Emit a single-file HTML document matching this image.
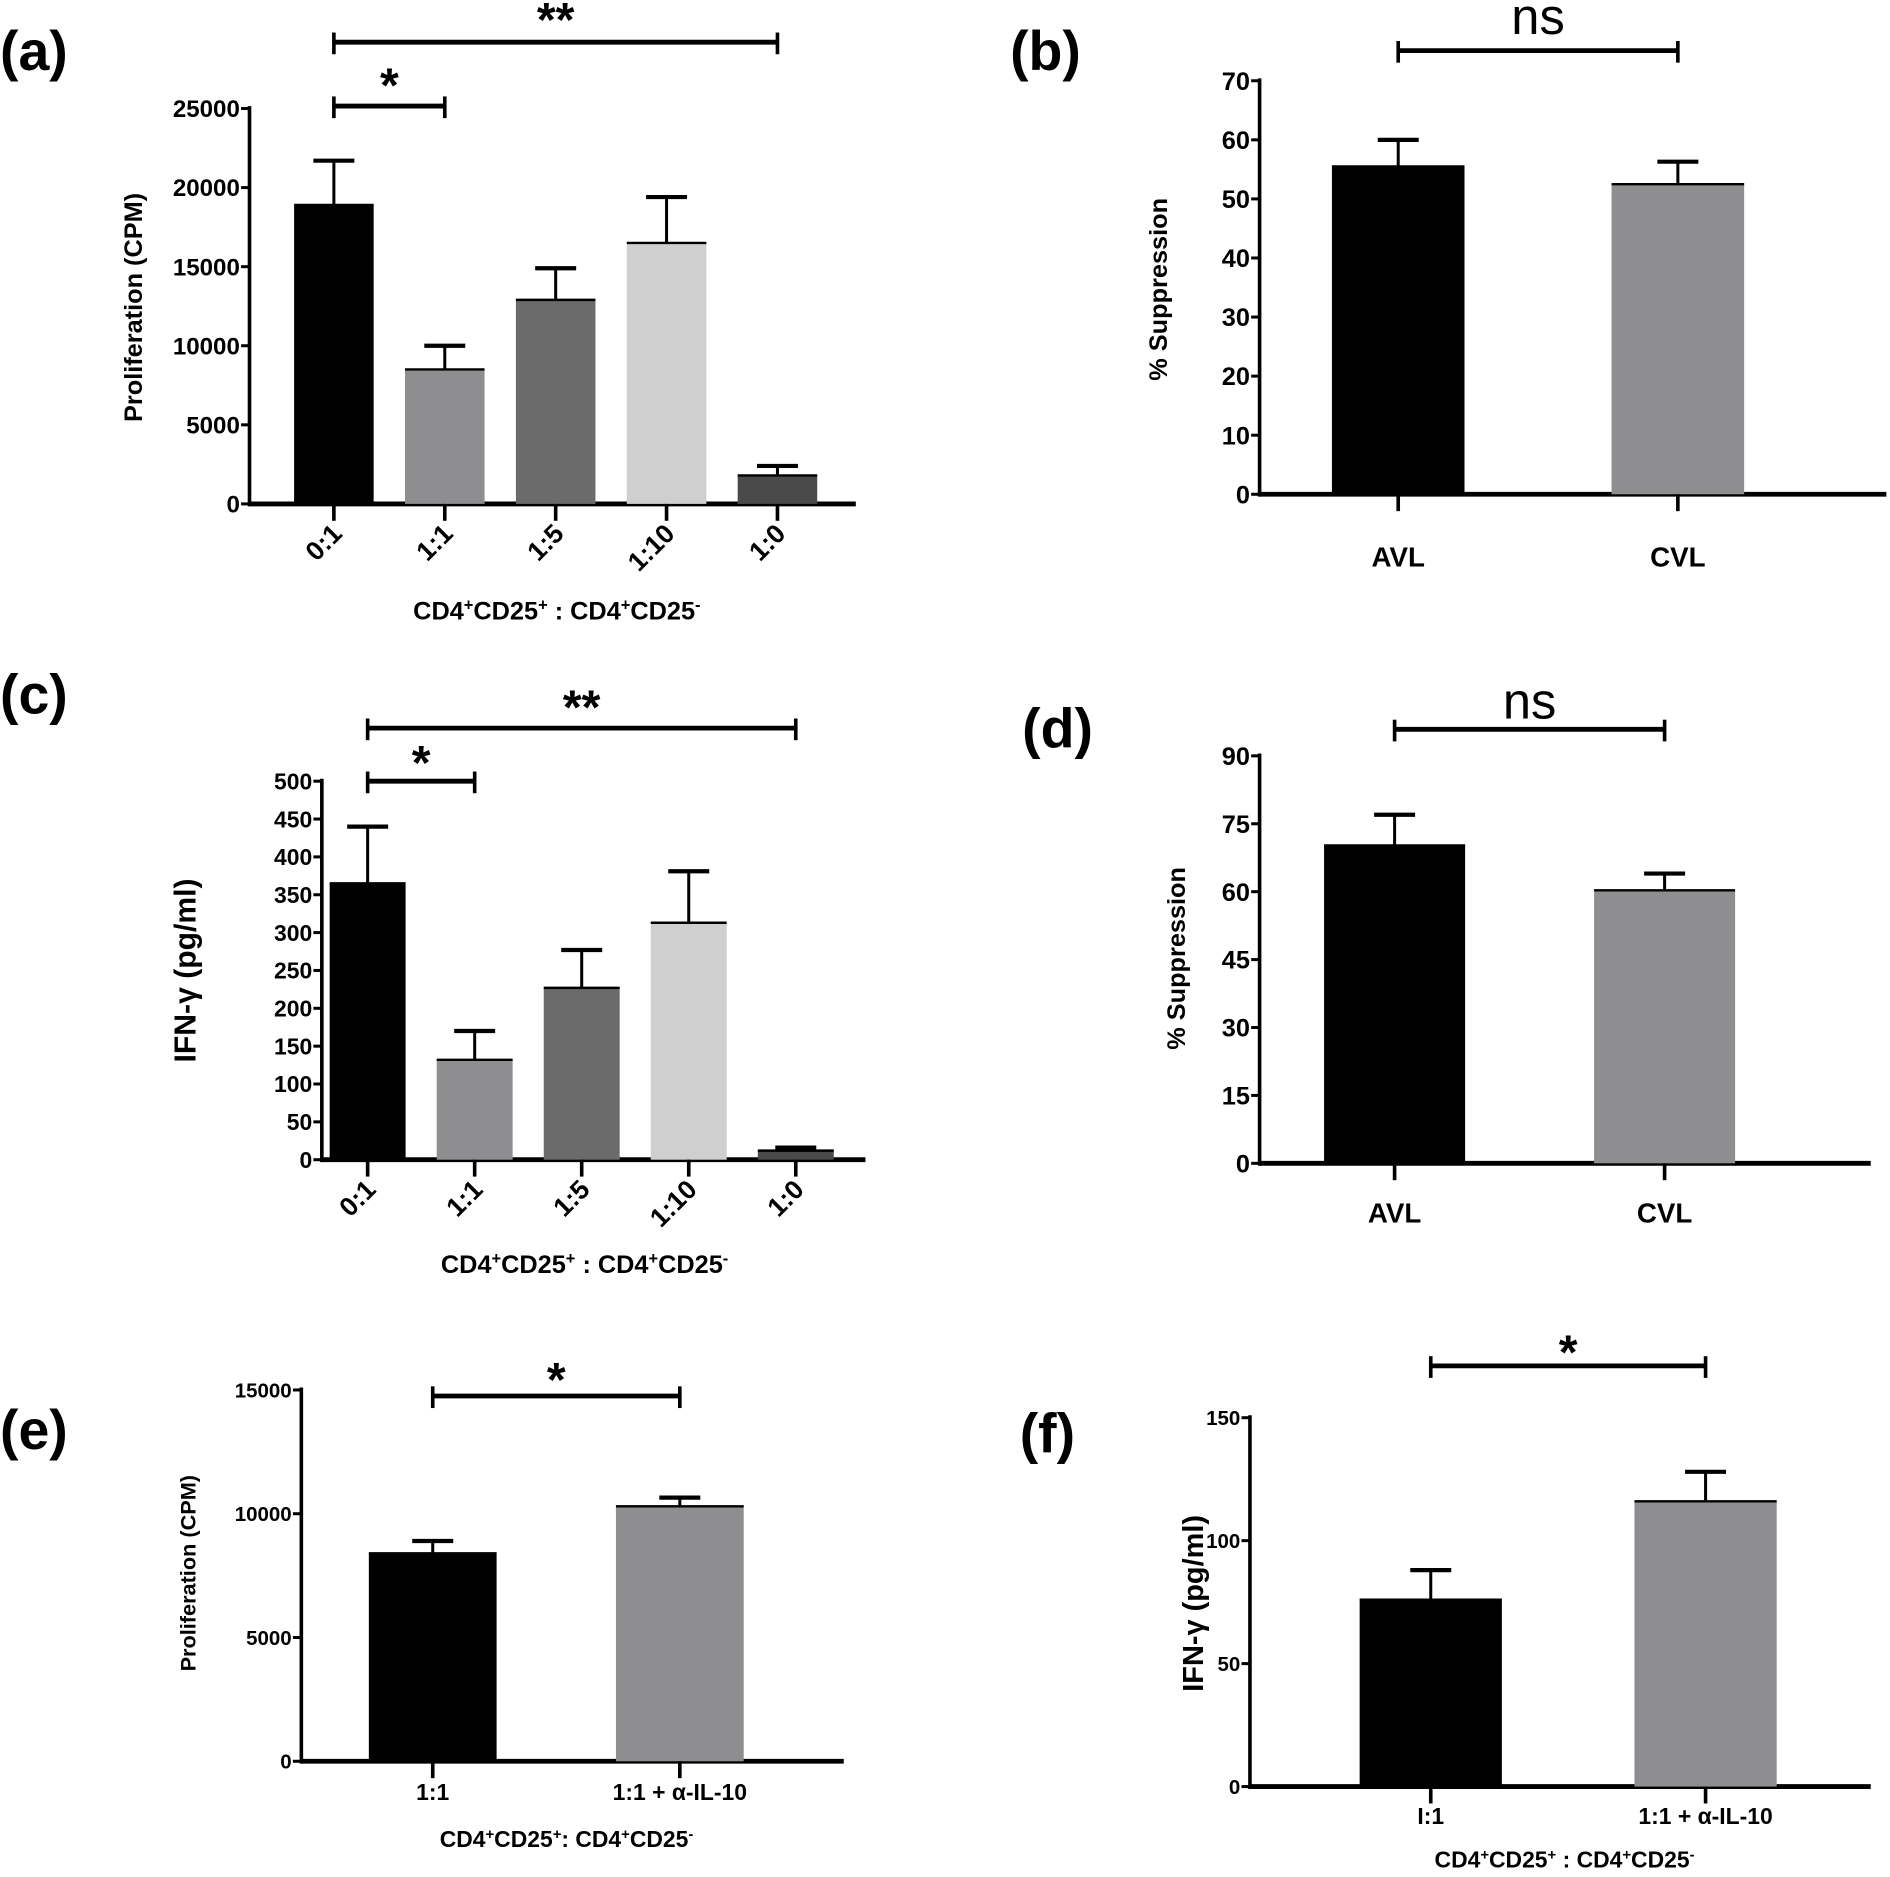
<!DOCTYPE html>
<html><head><meta charset="utf-8">
<style>
html,body{margin:0;padding:0;background:#fff;}
svg{display:block;}
text{font-family:"Liberation Sans",sans-serif;font-weight:bold;fill:#000;}
text.normal{font-weight:normal;}
</style></head>
<body>
<svg id="fig" width="1890" height="1877" viewBox="0 0 1568 1557" preserveAspectRatio="none" xmlns="http://www.w3.org/2000/svg"></svg>
<script>
// Panel (a)
const aCategories = ["0:1","1:1","1:5","1:10","1:0"];
const aValues = [18900, 8500, 12900, 16500, 1800];
const aErrors = [21700, 10000, 14900, 19400, 2400];
const aTicks = [0,5000,10000,15000,20000,25000];
// Panel (b)
const bCategories = ["AVL","CVL"];
const bValues = [55.5, 52.5];
const bErrors = [60, 56.3];
const bTicks = [0,10,20,30,40,50,60,70];
// Panel (c)
const cCategories = ["0:1","1:1","1:5","1:10","1:0"];
const cValues = [365, 132, 227, 313, 12];
const cErrors = [440, 170, 277, 381, 16];
const cTicks = [0,50,100,150,200,250,300,350,400,450,500];
// Panel (d)
const dCategories = ["AVL","CVL"];
const dValues = [70.2, 60.3];
const dErrors = [77, 64];
const dTicks = [0,15,30,45,60,75,90];
// Panel (e)
const eCategories = ["1:1","1:1 + α-IL-10"];
const eValues = [8400, 10300];
const eErrors = [8900, 10650];
const eTicks = [0,5000,10000,15000];
// Panel (f)
const fCategories = ["I:1","1:1 + α-IL-10"];
const fValues = [76, 116];
const fErrors = [88, 128];
const fTicks = [0,50,100,150];

const NS="http://www.w3.org/2000/svg";
const svg=document.getElementById('fig');
function el(tag,attrs,parent,txt){const e=document.createElementNS(NS,tag);for(const k in attrs)e.setAttribute(k,attrs[k]);if(txt!==undefined)e.textContent=txt;(parent||svg).appendChild(e);return e;}

function panel(cfg){
  const g=el('g',{});
  
  
  const max=cfg.ticks[cfg.ticks.length-1];
  const y=v=>cfg.y0-(v/max)*(cfg.y0-cfg.yTop);
  const n=cfg.cats.length;
  const x=i=>cfg.cx0+i*cfg.step;
  const ya=el('line',{x1:cfg.ax,y1:cfg.yTop-2,x2:cfg.ax,y2:cfg.y0+2,stroke:'#000','stroke-width':3},g);
  
  
  const xa=el('line',{x1:cfg.ax,y1:cfg.y0,x2:cfg.axEnd,y2:cfg.y0,stroke:'#000','stroke-width':4},g);
  
  
  cfg.ticks.forEach(t=>{
    el('line',{x1:cfg.ax-7,y1:y(t),x2:cfg.ax,y2:y(t),stroke:'#000','stroke-width':2.5},g);
    const tl=el('text',{x:cfg.ax-8,y:y(t)+cfg.tfs*0.36,'text-anchor':'end','font-size':cfg.tfs},g,String(t));
    
    
  });
  for(let i=0;i<n;i++){
    const cx=x(i);
    el('line',{x1:cx,y1:y(cfg.vals[i]),x2:cx,y2:y(cfg.errs[i]),stroke:'#000','stroke-width':2.5},g);
    el('line',{x1:cx-17,y1:y(cfg.errs[i]),x2:cx+17,y2:y(cfg.errs[i]),stroke:'#000','stroke-width':3.5},g);
    const b=el('rect',{x:cx-cfg.bw/2,y:y(cfg.vals[i]),width:cfg.bw,height:cfg.y0-y(cfg.vals[i]),fill:cfg.colors[i]},g);
    
    
    el('line',{x1:cx-cfg.bw/2,y1:y(cfg.vals[i]),x2:cx+cfg.bw/2,y2:y(cfg.vals[i]),stroke:'#000','stroke-width':2},g);
    el('line',{x1:cx,y1:cfg.y0,x2:cx,y2:cfg.y0+14,stroke:'#000','stroke-width':3},g);
    let lab;
    if(cfg.rot){
      lab=el('text',{x:cx+8,y:cfg.y0+26,'text-anchor':'end','font-size':cfg.lfs,transform:`rotate(-45 ${cx+8} ${cfg.y0+26})`},g,cfg.cats[i]);
    } else {
      lab=el('text',{x:cx,y:cfg.labY,'text-anchor':'middle','font-size':cfg.lfs},g,cfg.cats[i]);
    }
    
    
  }
  const yt=el('text',{x:cfg.ytX,y:cfg.ytY,'text-anchor':'middle','font-size':cfg.ytfs,transform:`rotate(-90 ${cfg.ytX} ${cfg.ytY})`},g,cfg.ytitle);
  
  
  if(cfg.xtitle){
    const xt=el('text',{x:cfg.xtX,y:cfg.xtY,'text-anchor':'middle','font-size':cfg.xtfs},g);
    
    
    xt.innerHTML=cfg.xtitle;
  }
  const pl=el('text',{x:cfg.plX,y:cfg.plY,'font-size':46},g,'('+cfg.id+')');
  
  
  cfg.sig.forEach(s=>{
    const x1=x(s.i),x2=x(s.j);
    el('line',{x1:x1,y1:s.y,x2:x2,y2:s.y,stroke:'#000','stroke-width':4},g);
    el('line',{x1:x1,y1:s.y-8,x2:x1,y2:s.y+10,stroke:'#000','stroke-width':3},g);
    el('line',{x1:x2,y1:s.y-8,x2:x2,y2:s.y+10,stroke:'#000','stroke-width':3},g);
    const st=el('text',{x:(x1+x2)/2,y:s.ty,'text-anchor':'middle','font-size':s.fs},g,s.t);
    if(s.ns) st.setAttribute('class','normal');
    
    
  });
}
const XT='CD4<tspan baseline-shift="super" font-size="65%">+</tspan>CD25<tspan baseline-shift="super" font-size="65%">+</tspan> : CD4<tspan baseline-shift="super" font-size="65%">+</tspan>CD25<tspan baseline-shift="super" font-size="65%">-</tspan>';
const grays5=['#000','#8e8e91','#6b6b6b','#cfcfcf','#4a4a4a'];
panel({id:'a',cats:aCategories,vals:aValues,errs:aErrors,ticks:aTicks,ax:207,axEnd:710,y0:418,yTop:90,cx0:277,step:92,bw:66,colors:grays5,tfs:20,lfs:22,rot:true,
  ytitle:'Proliferation (CPM)',ytX:118,ytY:255,ytfs:21,xtitle:XT,xtX:462,xtY:514,xtfs:21,plX:0,plY:58,
  sig:[{i:0,j:4,y:35,t:'**',ty:30,fs:40},{i:0,j:1,y:88,t:'*',ty:84,fs:40}]});
panel({id:'b',cats:bCategories,vals:bValues,errs:bErrors,ticks:bTicks,ax:1045,axEnd:1565,y0:410,yTop:67,cx0:1160,step:232,bw:110,colors:['#000','#8e8e91'],tfs:21,lfs:23,rot:false,labY:470,
  ytitle:'% Suppression',ytX:968,ytY:240,ytfs:21,plX:838,plY:58,
  sig:[{i:0,j:1,y:42,t:'ns',ty:28,fs:42,ns:true}]});
panel({id:'c',cats:cCategories,vals:cValues,errs:cErrors,ticks:cTicks,ax:267,axEnd:718,y0:962,yTop:648,cx0:305,step:88.8,bw:63,colors:grays5,tfs:19,lfs:22,rot:true,
  ytitle:'IFN-γ (pg/ml)',ytX:162,ytY:805,ytfs:25,xtitle:XT,xtX:485,xtY:1056,xtfs:21,plX:0,plY:592,
  sig:[{i:0,j:4,y:604,t:'**',ty:600,fs:40},{i:0,j:1,y:648,t:'*',ty:646,fs:40}]});
panel({id:'d',cats:dCategories,vals:dValues,errs:dErrors,ticks:dTicks,ax:1045,axEnd:1552,y0:965,yTop:627,cx0:1157,step:224,bw:117,colors:['#000','#8e8e91'],tfs:21,lfs:23,rot:false,labY:1014,
  ytitle:'% Suppression',ytX:983,ytY:795,ytfs:21,plX:848,plY:620,
  sig:[{i:0,j:1,y:605,t:'ns',ty:596,fs:42,ns:true}]});
panel({id:'e',cats:eCategories,vals:eValues,errs:eErrors,ticks:eTicks,ax:250,axEnd:700,y0:1461,yTop:1153,cx0:359,step:205,bw:106,colors:['#000','#8e8e91'],tfs:17,lfs:19,rot:false,labY:1493,
  ytitle:'Proliferation (CPM)',ytX:162,ytY:1305,ytfs:18,xtitle:XT.replace(' : ',':  '),xtX:470,xtY:1532,xtfs:19,plX:0,plY:1202,
  sig:[{i:0,j:1,y:1158,t:'*',ty:1158,fs:40}]});
panel({id:'f',cats:fCategories,vals:fValues,errs:fErrors,ticks:fTicks,ax:1037,axEnd:1552,y0:1482,yTop:1176,cx0:1187,step:228,bw:118,colors:['#000','#8e8e91'],tfs:17,lfs:19,rot:false,labY:1513,
  ytitle:'IFN-γ (pg/ml)',ytX:998,ytY:1330,ytfs:24,xtitle:XT,xtX:1298,xtY:1549,xtfs:19,plX:846,plY:1205,
  sig:[{i:0,j:1,y:1133,t:'*',ty:1135,fs:40}]});
</script>
</body></html>
